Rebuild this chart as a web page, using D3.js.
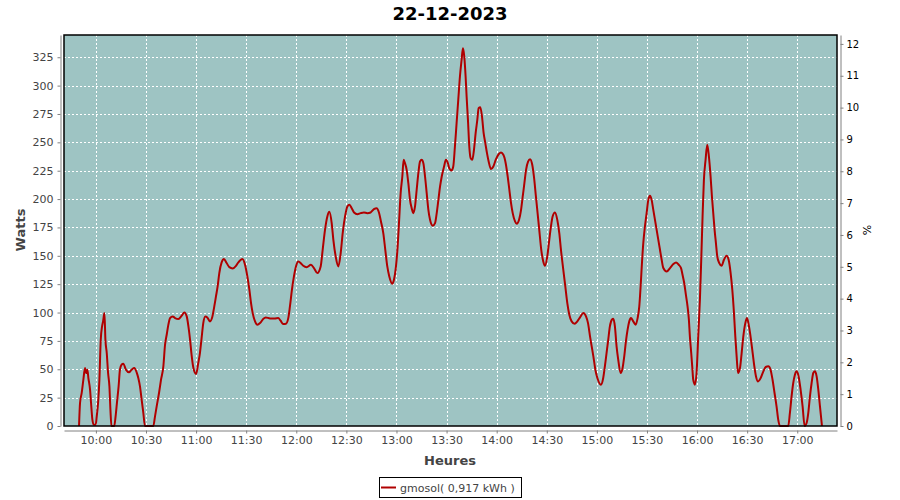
<!DOCTYPE html>
<html>
<head>
<meta charset="utf-8">
<script src="https://cdn.jsdelivr.net/npm/d3@7"></script>
<style>
  html, body { margin: 0; padding: 0; background: #fff; }
  svg { display: block; font-family: "DejaVu Sans", sans-serif; }
</style>
</head>
<body>
<svg id="chart" width="900" height="500"></svg>
<script>
// ---- data (time in minutes since midnight, power in watts) ----
const title = "22-12-2023";
const seriesName = "gmosol( 0,917 kWh )";
const xLabel = "Heures";
const yLabel = "Watts";
const y2Label = "%";
const xDomain = [580.9, 1043.8];
const yDomain = [0, 344.6];
const y2Domain = [0, 12.28];
const xTickMinutes = [600, 630, 660, 690, 720, 750, 780, 810, 840, 870, 900, 930, 960, 990, 1020];
const yTicks = [0, 25, 50, 75, 100, 125, 150, 175, 200, 225, 250, 275, 300, 325];
const y2Ticks = [0, 1, 2, 3, 4, 5, 6, 7, 8, 9, 10, 11, 12];

const minutes = [
 589.9,590.5,591.5,592.5,593.5,594.1,594.9,595.5,596.5,597.1,597.9,598.7,599.9,600.5,601.3,602.1,602.9,603.7,604.3,605.1,
 605.7,606.5,607.3,608.1,608.7,609.3,611.0,611.8,612.6,613.6,614.4,615.4,616.4,618.0,619.8,621.4,623.0,624.4,625.4,626.4,
 627.4,628.4,629.4,634.4,635.4,636.4,637.8,639.0,640.4,641.4,642.4,643.4,644.4,646.0,647.4,649.4,651.4,653.0,654.4,655.4,
 656.4,657.4,658.4,660.0,661.3,662.3,663.3,664.3,665.5,666.7,668.3,669.7,670.9,671.9,672.9,673.9,675.3,676.7,678.3,679.9,
 681.9,683.9,685.3,687.7,689.3,690.7,691.9,692.9,693.9,695.3,696.7,698.3,700.3,701.7,704.3,707.2,709.2,710.6,712.2,713.8,
 715.2,716.2,717.4,718.6,719.8,721.2,
 723.0,724.2,726.2,728.8,730.6,732.6,734.6,735.8,737.2,738.6,739.8,741.2,742.2,743.6,745.2,746.6,747.8,749.2,750.6,751.8,
 753.2,754.6,756.6,758.5,760.5,762.5,764.5,766.5,768.1,769.5,770.7,772.1,773.3,774.5,775.7,777.5,778.5,779.7,780.7,781.5,
 782.5,783.5,784.3,785.1,786.1,787.1,788.1,789.1,790.1,791.1,792.1,793.1,794.1,795.1,796.1,797.1,798.1,799.1,800.1,801.7,
 803.1,804.1,805.1,806.1,807.1,808.5,809.6,810.8,811.6,813.0,814.0,815.0,816.0,817.0,818.0,819.0,819.8,820.6,821.4,822.0,
 822.8,823.6,824.4,825.4,826.4,827.4,828.4,829.2,830.2,831.2,832.2,833.2,834.2,835.2,836.6,838.0,839.6,841.4,842.6,844.0,
 845.4,846.6,847.6,848.6,849.6,851.0,852.0,853.4,854.6,855.6,856.6,857.6,858.8,860.0,861.3,862.3,863.5,864.5,865.5,866.7,
 867.9,868.9,870.3,871.5,872.5,873.5,874.9,876.3,877.5,878.5,879.9,881.1,882.3,883.5,884.9,886.7,888.3,889.9,891.9,893.5,
 894.7,895.9,896.9,897.9,899.1,900.3,
 902.4,903.8,904.8,905.8,906.8,907.8,909.0,909.8,910.8,911.8,912.8,914.2,915.4,916.4,917.4,918.4,919.4,920.4,921.8,923.2,
 924.4,925.4,926.2,927.0,927.8,928.8,929.8,930.8,931.8,932.8,933.8,934.8,935.8,936.8,937.8,938.8,939.8,941.8,943.8,945.8,
 947.4,949.0,950.4,951.3,952.3,953.3,954.3,955.1,955.7,956.5,957.1,957.7,958.7,959.7,960.7,961.7,962.5,963.3,964.1,965.1,
 966.1,967.1,968.1,968.9,969.7,970.5,971.3,972.1,973.3,974.7,976.1,977.7,978.9,980.1,981.1,982.1,982.9,983.7,984.5,985.7,
 986.7,987.7,988.9,989.9,991.1,992.3,993.3,994.3,995.3,996.5,998.1,999.7,1001.1,1002.7,1004.0,1005.2,1006.4,1007.6,1008.6,1009.6,
 1014.6,1015.6,1016.6,1017.6,1018.6,1019.6,1020.8,1022.0,1023.2,1024.4,1025.6,1026.6,1027.6,1028.6,1029.6,1030.6,1031.6,1032.6,1033.6,1034.8
];
const watts = [
 0,20.3,29.1,40.8,51.1,46.7,49.6,42.3,32.0,20.3,5.6,1.2,1.2,8.5,20.3,40.8,76.0,87.8,92.2,99.5,
 76.0,64.3,46.7,34.9,14.4,0,0,8.5,20.3,34.9,49.6,54.0,54.9,49.6,47.3,49.6,51.1,47.3,42.3,34.9,
 23.2,11.5,0,0,8.5,17.3,29.1,40.8,52.6,71.6,80.4,89.3,95.1,96.6,95.1,94.2,97.2,100.1,96.6,87.8,
 76.0,61.4,51.1,45.8,55.5,64.3,77.5,90.7,96.6,95.7,92.2,96.0,105.4,114.2,123.0,134.8,144.2,147.1,143.6,140.0,
 138.9,141.2,144.2,147.1,142.1,131.8,120.1,108.3,99.5,92.2,89.3,90.7,94.5,95.7,94.8,94.8,95.1,92.8,89.8,90.1,
 95.1,105.4,120.1,131.8,140.6,145.0,
 143.0,141.2,140.0,142.1,139.2,134.8,140.6,155.3,172.9,184.7,188.8,178.8,164.1,149.4,140.6,152.4,170.0,184.7,193.5,195.0,
 192.0,188.2,186.7,187.6,188.2,187.6,188.2,191.1,192.0,188.2,180.3,170.0,155.3,140.6,131.8,125.4,128.9,140.6,158.3,178.8,
 205.2,219.9,234.6,231.6,225.8,214.0,199.3,192.0,187.6,193.5,208.2,222.8,233.1,234.6,231.6,219.9,205.2,190.5,181.7,176.5,
 178.8,187.6,199.3,211.1,219.9,228.7,234.6,231.6,227.2,225.2,228.7,246.3,266.9,287.4,308.0,322.7,332.9,325.6,308.0,290.4,
 269.8,246.3,236.1,234.6,243.4,258.1,269.8,280.1,281.0,272.8,258.1,249.3,240.5,233.1,226.4,228.7,235.2,239.9,241.0,239.0,
 231.6,219.9,208.2,196.4,187.6,180.3,178.2,181.7,190.5,202.3,214.0,225.8,233.1,235.2,230.2,219.9,202.3,187.6,172.9,155.3,
 145.0,141.2,149.4,164.1,175.9,184.7,188.2,181.7,170.0,155.3,137.7,123.0,108.3,98.1,92.2,90.1,92.2,95.7,99.5,96.6,
 90.7,79.0,70.2,61.4,49.6,42.3,
 36.4,42.3,52.6,64.3,76.0,87.8,93.7,94.5,87.8,70.2,58.4,46.7,51.1,61.4,74.6,84.9,92.2,95.1,92.2,89.3,
 95.1,105.4,123.0,143.6,161.2,175.9,187.6,199.3,202.9,199.3,190.5,181.7,172.9,164.1,155.3,146.5,139.2,136.2,139.2,142.7,
 144.2,142.1,139.2,133.3,126.0,115.7,105.4,93.7,79.0,64.3,52.6,40.8,36.4,46.7,79.0,111.3,146.5,184.7,217.0,234.6,
 247.8,237.5,219.9,202.3,187.6,172.9,161.2,149.4,143.6,141.2,146.5,150.0,146.5,134.8,120.1,99.5,79.0,61.4,46.7,51.1,
 64.3,79.0,90.7,95.1,87.8,76.0,64.3,52.6,43.7,39.3,42.3,48.2,52.0,52.6,49.6,40.8,29.1,17.3,5.6,0,
 0,11.5,26.1,37.9,45.2,48.2,43.7,32.0,17.3,0,2.6,11.5,26.1,37.9,46.7,48.2,43.7,32.0,17.3,0
];

// ---- layout ----
const svg = d3.select("#chart");
const plot = { left: 64, top: 35, right: 837, bottom: 426 };
const bg = "#9ec4c3";
const lineColor = "#b00000";
const axisColor = "#808080";
const textColor = "#444444";

const x = d3.scaleLinear().domain(xDomain).range([plot.left, plot.right]);
const y = d3.scaleLinear().domain(yDomain).range([plot.bottom, plot.top]);
const y2 = d3.scaleLinear().domain(y2Domain).range([plot.bottom, plot.top]);

const fmtTime = m => {
  const h = Math.floor(m / 60), mm = Math.round(m % 60);
  return String(h).padStart(2, "0") + ":" + String(mm).padStart(2, "0");
};

// title
svg.append("text")
  .attr("x", 450).attr("y", 20)
  .attr("text-anchor", "middle")
  .attr("font-size", 18).attr("font-weight", "bold")
  .attr("fill", "#000")
  .text(title);

// plot background
svg.append("rect")
  .attr("x", plot.left).attr("y", plot.top)
  .attr("width", plot.right - plot.left).attr("height", plot.bottom - plot.top)
  .attr("fill", bg);

// grid
const grid = svg.append("g").attr("stroke", "#fff").attr("stroke-width", 1).attr("stroke-dasharray", "2,2");
grid.selectAll("line.v").data(xTickMinutes).join("line")
  .attr("x1", d => Math.round(x(d)) + 0.5).attr("x2", d => Math.round(x(d)) + 0.5)
  .attr("y1", plot.top).attr("y2", plot.bottom);
grid.selectAll("line.h").data(yTicks.filter(d => d > 0)).join("line")
  .attr("y1", d => Math.round(y(d)) + 0.5).attr("y2", d => Math.round(y(d)) + 0.5)
  .attr("x1", plot.left).attr("x2", plot.right);

// data line
const pts = minutes.map((m, i) => [m, watts[i]]);
const clipId = "plotclip";
svg.append("clipPath").attr("id", clipId).append("rect")
  .attr("x", plot.left).attr("y", plot.top)
  .attr("width", plot.right - plot.left).attr("height", plot.bottom - plot.top + 1);
svg.append("path")
  .datum(pts)
  .attr("clip-path", `url(#${clipId})`)
  .attr("fill", "none")
  .attr("stroke", lineColor)
  .attr("stroke-width", 2)
  .attr("stroke-linejoin", "round")
  .attr("d", d3.line().x(d => x(d[0])).y(d => y(d[1])).curve(d3.curveMonotoneX));

// plot outline
svg.append("rect")
  .attr("x", plot.left).attr("y", plot.top)
  .attr("width", plot.right - plot.left).attr("height", plot.bottom - plot.top)
  .attr("fill", "none").attr("stroke", "#000").attr("stroke-width", 1.5);

// axes
function styleAxis(g, labelColor) {
  g.select(".domain").attr("stroke", axisColor);
  g.selectAll(".tick line").attr("stroke", axisColor);
  g.selectAll(".tick text").attr("fill", labelColor).attr("font-size", 11)
    .attr("font-family", "DejaVu Sans, sans-serif");
}

const xAxis = svg.append("g")
  .attr("transform", `translate(0,${plot.bottom + 4.5})`)
  .call(d3.axisBottom(x).tickValues(xTickMinutes).tickFormat(fmtTime).tickSize(3).tickSizeOuter(0).tickPadding(3));
styleAxis(xAxis, textColor);

const yAxis = svg.append("g")
  .attr("transform", `translate(${plot.left - 3.5},0)`)
  .call(d3.axisLeft(y).tickValues(yTicks).tickSize(3).tickSizeOuter(0).tickPadding(4));
styleAxis(yAxis, textColor);

const y2Axis = svg.append("g")
  .attr("transform", `translate(${plot.right + 3.5},0)`)
  .call(d3.axisRight(y2).tickValues(y2Ticks).tickSize(3).tickSizeOuter(0).tickPadding(3));
styleAxis(y2Axis, "#000");
y2Axis.selectAll(".tick text").attr("font-size", 10);

// axis labels
svg.append("text")
  .attr("x", 450).attr("y", 465)
  .attr("text-anchor", "middle")
  .attr("font-size", 13).attr("font-weight", "bold")
  .attr("fill", textColor)
  .text(xLabel);

svg.append("text")
  .attr("transform", "translate(25,230) rotate(-90)")
  .attr("text-anchor", "middle")
  .attr("font-size", 13).attr("font-weight", "bold")
  .attr("fill", textColor)
  .text(yLabel);

svg.append("text")
  .attr("transform", "translate(871,230) rotate(-90)")
  .attr("text-anchor", "middle")
  .attr("font-size", 11)
  .attr("fill", "#000")
  .text(y2Label);

// legend
const legend = svg.append("g");
legend.append("rect")
  .attr("x", 379.5).attr("y", 477.5).attr("width", 142).attr("height", 20)
  .attr("fill", "#fff").attr("stroke", "#000").attr("stroke-width", 1);
legend.append("line")
  .attr("x1", 381).attr("x2", 396).attr("y1", 487.5).attr("y2", 487.5)
  .attr("stroke", lineColor).attr("stroke-width", 2);
legend.append("text")
  .attr("x", 400).attr("y", 491.5)
  .attr("font-size", 11).attr("fill", textColor)
  .text(seriesName);
</script>
</body>
</html>
